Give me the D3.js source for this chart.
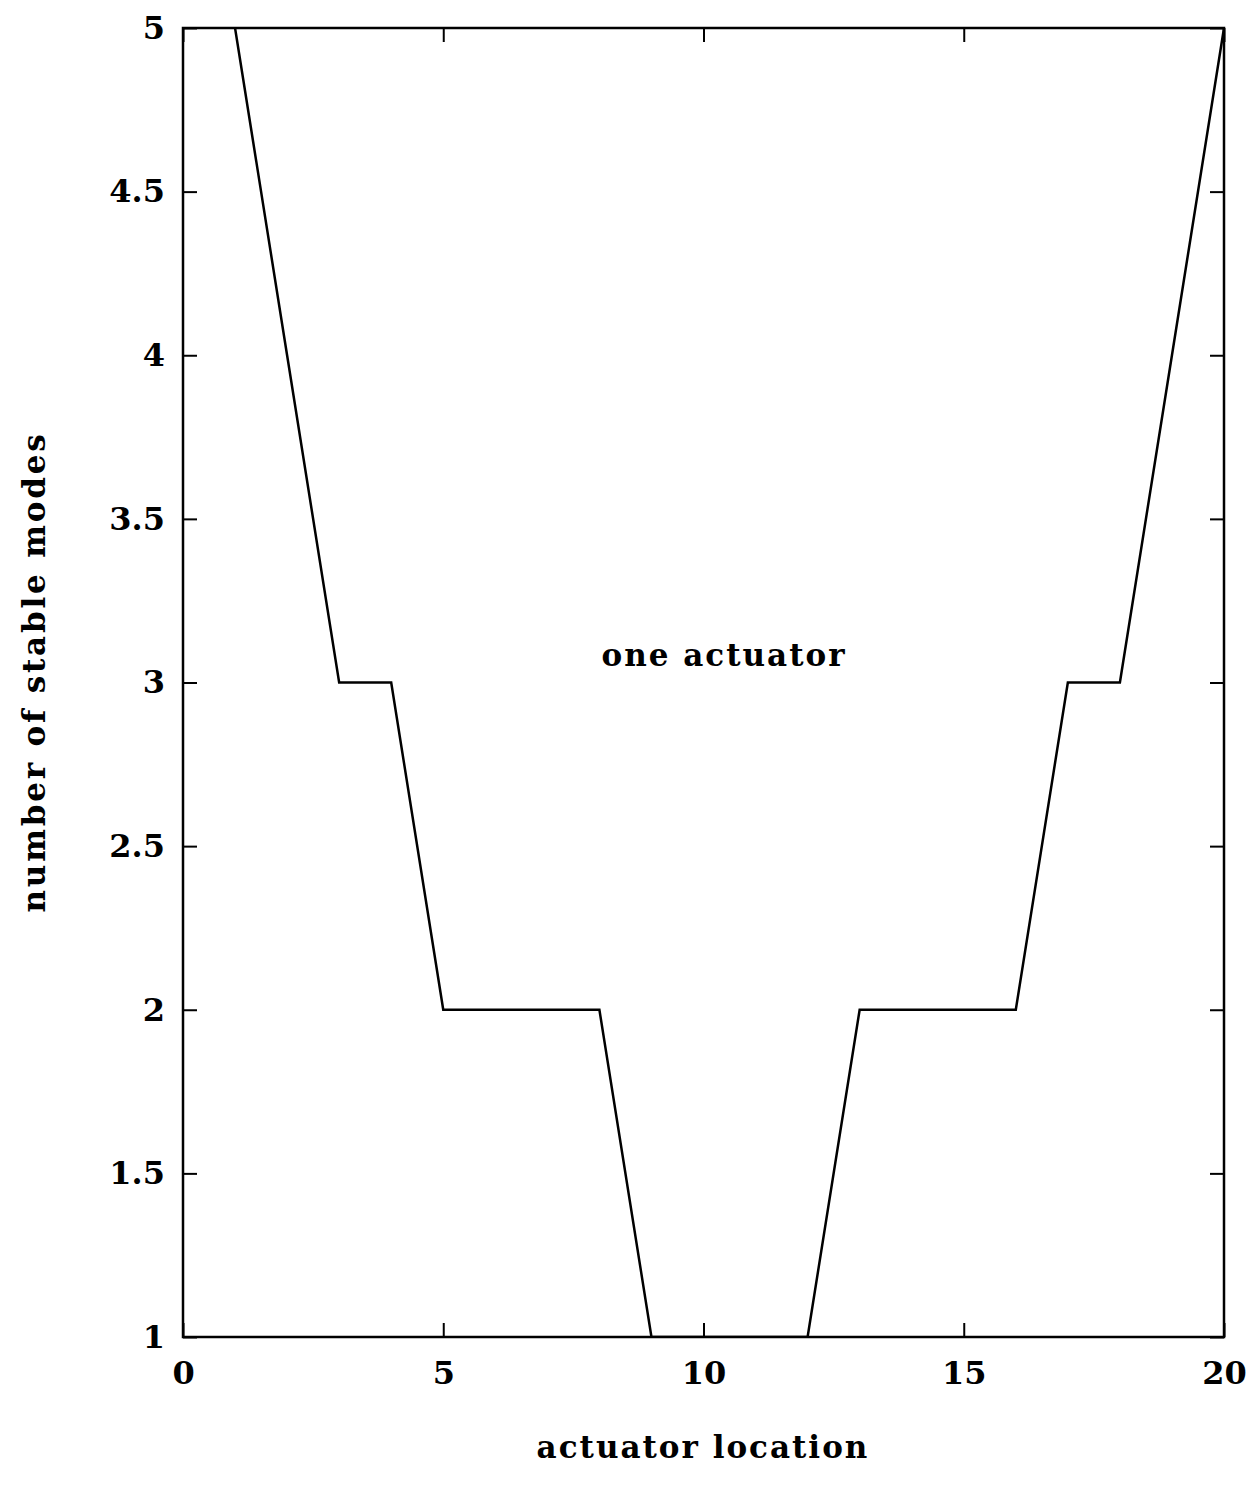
<!DOCTYPE html>
<html>
<head>
<meta charset="utf-8">
<script src="https://cdn.jsdelivr.net/npm/d3@7"></script>
<style>
  body { margin: 0; background: #fff; }
  text { font-family: "DejaVu Serif", serif; font-weight: bold; fill: #000; }
</style>
</head>
<body>
<div id="chart"></div>
<script>
const locations = [1, 2, 3, 4, 5, 6, 7, 8, 9, 10, 11, 12, 13, 14, 15, 16, 17, 18, 19, 20]
const stableModes = [5, 4, 3, 3, 2, 2, 2, 2, 1, 1, 1, 1, 2, 2, 2, 2, 3, 3, 4, 5]
const xTicks = [0, 5, 10, 15, 20]
const yTicks = [1, 1.5, 2, 2.5, 3, 3.5, 4, 4.5, 5]
const yTickLabels = ["1", "1.5", "2", "2.5", "3", "3.5", "4", "4.5", "5"]

const width = 1250
const height = 1494
const plotLeft = 183, plotRight = 1224, plotTop = 28, plotBottom = 1337
const tickLen = 14

const svg = d3.select("#chart").append("svg")
  .attr("width", width)
  .attr("height", height)

const x = d3.scaleLinear().domain([0, 20]).range([plotLeft, plotRight])
const y = d3.scaleLinear().domain([1, 5]).range([plotBottom, plotTop])

svg.append("defs").append("clipPath").attr("id", "clip")
  .append("rect")
  .attr("x", plotLeft).attr("y", plotTop)
  .attr("width", plotRight - plotLeft).attr("height", plotBottom - plotTop)

// inward ticks on all sides
svg.append("g")
  .attr("transform", `translate(0,${plotBottom})`)
  .call(d3.axisBottom(x).tickValues(xTicks).tickSize(-tickLen).tickPadding(24).tickFormat(d3.format("d")))
  .call(g => g.select(".domain").remove())
  .call(g => g.selectAll("text").attr("font-size", 32).attr("font-family", "DejaVu Serif").attr("font-weight", "bold"))

svg.append("g")
  .attr("transform", `translate(0,${plotTop})`)
  .call(d3.axisTop(x).tickValues(xTicks).tickSize(-tickLen).tickFormat(""))
  .call(g => g.select(".domain").remove())

svg.append("g")
  .attr("transform", `translate(${plotLeft},0)`)
  .call(d3.axisLeft(y).tickValues(yTicks).tickSize(-tickLen).tickPadding(18).tickFormat((d, i) => yTickLabels[i]))
  .call(g => g.select(".domain").remove())
  .call(g => g.selectAll("text").attr("font-size", 32).attr("font-family", "DejaVu Serif").attr("font-weight", "bold"))

svg.append("g")
  .attr("transform", `translate(${plotRight},0)`)
  .call(d3.axisRight(y).tickValues(yTicks).tickSize(-tickLen).tickFormat(""))
  .call(g => g.select(".domain").remove())

svg.selectAll(".tick line").attr("stroke", "#000").attr("stroke-width", 2)

svg.append("rect")
  .attr("x", plotLeft).attr("y", plotTop)
  .attr("width", plotRight - plotLeft).attr("height", plotBottom - plotTop)
  .attr("fill", "none").attr("stroke", "#000").attr("stroke-width", 2.5)

const line = d3.line()
  .x((d, i) => x(locations[i]))
  .y(d => y(d))

svg.append("path")
  .datum(stableModes)
  .attr("clip-path", "url(#clip)")
  .attr("d", line)
  .attr("fill", "none")
  .attr("stroke", "#000")
  .attr("stroke-width", 2.5)

svg.append("text")
  .attr("x", 724).attr("y", y(3.05))
  .attr("text-anchor", "middle")
  .attr("font-size", 31)
  .attr("letter-spacing", 2)
  .text("one actuator")

svg.append("text")
  .attr("x", 703).attr("y", 1458)
  .attr("text-anchor", "middle")
  .attr("font-size", 31)
  .attr("letter-spacing", 2)
  .text("actuator location")

svg.append("text")
  .attr("transform", `translate(45,672) rotate(-90)`)
  .attr("text-anchor", "middle")
  .attr("font-size", 31)
  .attr("letter-spacing", 2.8)
  .text("number of stable modes")
</script>
</body>
</html>
